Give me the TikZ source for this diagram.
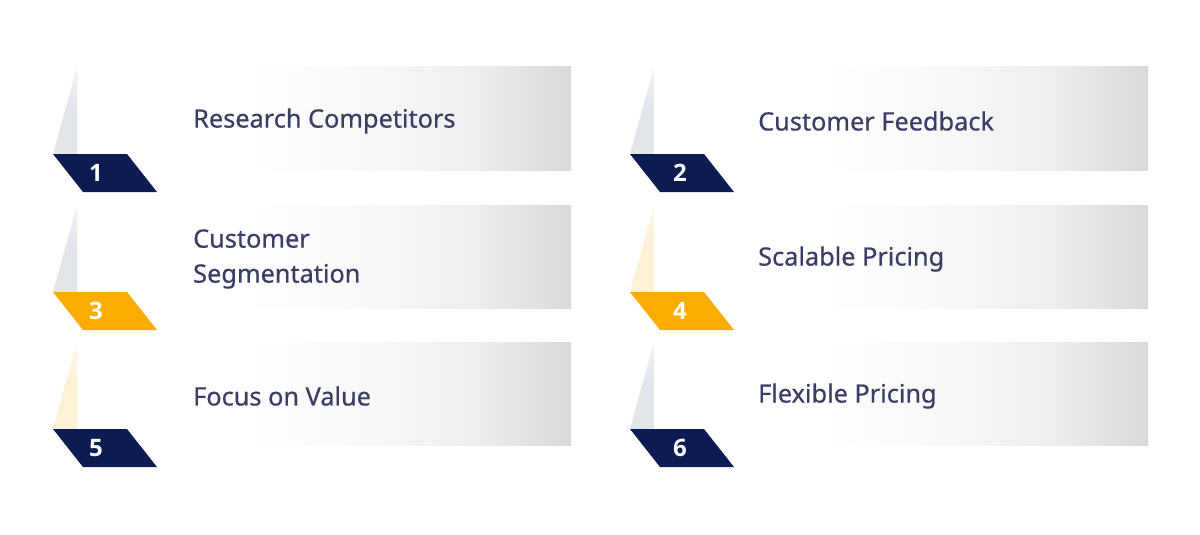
\documentclass[tikz,border=0pt]{standalone}
\usepackage{fontspec}
\setmainfont{Noto Sans}
\newfontfamily\labelfont{Noto Sans}[FakeBold=0.5]
\newfontfamily\numfont{Open Sans}
\usepackage{tikz}
\usetikzlibrary{positioning}
\definecolor{stepnavy}{RGB}{12,27,82}
\definecolor{stepgold}{RGB}{250,172,0}
\definecolor{trigray}{RGB}{226,230,235}
\definecolor{trigold}{RGB}{253,241,214}
\definecolor{labelink}{RGB}{57,62,100}
\definecolor{panelmid}{RGB}{238,238,238}
\definecolor{panelend}{RGB}{217,217,217}
\pgfdeclarehorizontalshading{panelfade}{100bp}{color(0bp)=(white); color(25bp)=(white); color(37bp)=(white); color(52bp)=(black!3); color(64bp)=(panelmid); color(75bp)=(panelend); color(100bp)=(panelend)}
\tikzset{
  panel/.style={shade, shading=panelfade, minimum width=426pt, minimum height=103pt, inner sep=0pt},
  labelbox/.style={anchor=west, text=labelink, align=left, inner sep=0pt,
    font=\labelfont\fontsize{25.3}{35}\selectfont},
  numtag/.style={text=white, inner sep=0pt, font=\numfont\fontsize{24}{28}\selectfont\bfseries}
}

\begin{document}
\begin{tikzpicture}[x=1pt, y=-1pt]
        \fill[white] (0,0) rectangle (1200,535);
        \useasboundingbox (0,0) rectangle (1200,535);
        \foreach \n/\dx/\dy/\tagcol/\tricol/\tx/\nx/\txt in {
            1/0/0/stepnavy/trigray/193/96/{Research Competitors},
            2/577/0/stepnavy/trigray/181/103/{Customer Feedback},
            3/0/138/stepgold/trigray/193/96/{Customer\\Segmentation},
            4/577/138/stepgold/trigold/181/103/{Scalable Pricing},
            5/0/275/stepnavy/trigold/193/96/{Focus on Value},
            6/577/275/stepnavy/trigray/181/103/{Flexible Pricing}} {
          \begin{scope}[shift={(\dx,\dy)}]
            \shade[top color=\tricol!45, bottom color=\tricol, middle color=\tricol] (77,67) -- (53,154) -- (77,154) -- cycle;
            \node[panel] (panel\n) at (358,118.5) {};
            \fill[\tagcol] (53,154) -- (127,154) -- (157,192) -- (83,192) -- cycle;
            \node[numtag] (num\n) at (\nx,173) {\n};
            \node[labelbox] (label\n) at (\tx,121) {\txt};
          \end{scope}
        }
    \end{tikzpicture}
\end{document}
